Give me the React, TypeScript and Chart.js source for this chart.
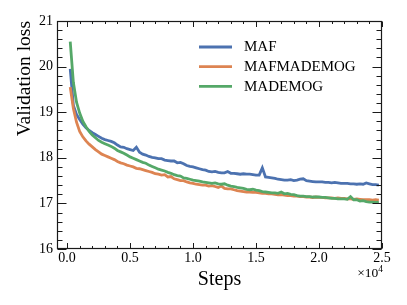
import React, { useEffect, useRef } from 'react';
import { Chart, registerables } from 'chart.js';

Chart.register(...registerables);

const steps = [
  250, 500, 750, 1000, 1250, 1500, 1750, 2000, 2250, 2500,
  2750, 3000, 3250, 3500, 3750, 4000, 4250, 4500, 4750, 5000,
  5250, 5500, 5750, 6000, 6250, 6500, 6750, 7000, 7250, 7500,
  7750, 8000, 8250, 8500, 8750, 9000, 9250, 9500, 9750, 10000,
  10250, 10500, 10750, 11000, 11250, 11500, 11750, 12000, 12250, 12500,
  12750, 13000, 13250, 13500, 13750, 14000, 14250, 14500, 14750, 15000,
  15250, 15500, 15750, 16000, 16250, 16500, 16750, 17000, 17250, 17500,
  17750, 18000, 18250, 18500, 18750, 19000, 19250, 19500, 19750, 20000,
  20250, 20500, 20750, 21000, 21250, 21500, 21750, 22000, 22250, 22500,
  22750, 23000, 23250, 23500, 23750, 24000, 24250, 24500, 24750,
];

const mafLoss = [
  19.95, 19.15, 18.95, 18.84, 18.74, 18.66, 18.60, 18.55, 18.51, 18.47,
  18.43, 18.40, 18.38, 18.36, 18.33, 18.28, 18.24, 18.23, 18.20, 18.18,
  18.16, 18.23, 18.12, 18.08, 18.06, 18.03, 18.01, 18.00, 17.98, 17.98,
  17.95, 17.94, 17.93, 17.93, 17.89, 17.90, 17.87, 17.83, 17.81, 17.80,
  17.78, 17.76, 17.74, 17.73, 17.70, 17.69, 17.70, 17.68, 17.67, 17.67,
  17.70, 17.66, 17.66, 17.65, 17.64, 17.65, 17.64, 17.64, 17.63, 17.62,
  17.62, 17.78, 17.58, 17.57, 17.56, 17.55, 17.53, 17.52, 17.51, 17.51,
  17.52, 17.50, 17.51, 17.53, 17.54, 17.50, 17.49, 17.48, 17.47, 17.47,
  17.47, 17.46, 17.46, 17.45, 17.46, 17.45, 17.44, 17.44, 17.44, 17.43,
  17.43, 17.42, 17.43, 17.42, 17.45, 17.43, 17.41, 17.41, 17.40,
];

const mafMademogLoss = [
  19.55, 19.08, 18.78, 18.58, 18.46, 18.37, 18.30, 18.24, 18.18, 18.13,
  18.08, 18.05, 18.02, 17.99, 17.96, 17.92, 17.89, 17.87, 17.84, 17.82,
  17.80, 17.77, 17.76, 17.74, 17.72, 17.70, 17.68, 17.65, 17.64, 17.62,
  17.63, 17.58, 17.59, 17.54, 17.52, 17.50, 17.50, 17.47, 17.45, 17.44,
  17.42, 17.41, 17.40, 17.40, 17.38, 17.39, 17.37, 17.35, 17.38, 17.33,
  17.32, 17.32, 17.30, 17.28, 17.27, 17.26, 17.25, 17.25, 17.24, 17.24,
  17.23, 17.22, 17.22, 17.21, 17.21, 17.20, 17.19, 17.19, 17.18, 17.17,
  17.17, 17.16, 17.16, 17.15, 17.15, 17.14, 17.14, 17.13, 17.14, 17.13,
  17.13, 17.12, 17.12, 17.12, 17.11, 17.12, 17.11, 17.11, 17.10, 17.10,
  17.09, 17.10, 17.09, 17.08, 17.08, 17.08, 17.07, 17.08, 17.07,
];

const mademogLoss = [
  20.55, 19.65, 19.22, 18.98, 18.80, 18.68, 18.58, 18.50, 18.44, 18.38,
  18.34, 18.31, 18.28, 18.25, 18.21, 18.16, 18.13, 18.10, 18.06, 18.02,
  17.99, 17.96, 17.93, 17.90, 17.88, 17.84, 17.81, 17.78, 17.75, 17.73,
  17.71, 17.68, 17.66, 17.63, 17.61, 17.60, 17.56, 17.55, 17.53, 17.51,
  17.50, 17.49, 17.47, 17.46, 17.45, 17.44, 17.45, 17.43, 17.42, 17.43,
  17.40, 17.38, 17.37, 17.35, 17.34, 17.33, 17.31, 17.30, 17.31, 17.29,
  17.28, 17.26, 17.25, 17.24, 17.23, 17.23, 17.22, 17.25, 17.21, 17.22,
  17.20, 17.19, 17.17, 17.16, 17.16, 17.15, 17.15, 17.14, 17.14, 17.14,
  17.13, 17.13, 17.12, 17.11, 17.11, 17.10, 17.10, 17.10, 17.09, 17.15,
  17.08, 17.08, 17.05, 17.06, 17.04, 17.03, 17.03, 17.02, 17.03,
];

const seriesNames = ['MAF', 'MAFMADEMOG', 'MADEMOG'];
const seriesColors = ['#4c72b0', '#dd8452', '#55a868'];
const xTickValues = [0, 5000, 10000, 15000, 20000, 25000];
const yTickValues = [16, 17, 18, 19, 20, 21];
const xRange = [-800, 25000];
const yRange = [16, 21];

const FAMILY = '"Liberation Serif", "Times New Roman", serif';

const axesPlugin = {
  id: 'mplAxes',
  afterDatasetsDraw(chart: any) {
    const { ctx, chartArea: a, scales } = chart;
    const xs = scales.x;
    const ys = scales.y;
    ctx.save();
    ctx.strokeStyle = '#1a1a1a';
    ctx.lineWidth = 1;
    const line = (x1: number, y1: number, x2: number, y2: number) => {
      ctx.beginPath();
      ctx.moveTo(x1, y1);
      ctx.lineTo(x2, y2);
      ctx.stroke();
    };
    const L = Math.round(a.left) + 0.5;
    const R = Math.round(a.right) - 0.5;
    const T = Math.round(a.top) + 0.5;
    const B = Math.round(a.bottom) - 0.5;
    for (let k = 0; k <= 25; k++) {
      const v = yRange[0] + k * 0.2;
      const py = Math.round(ys.getPixelForValue(v)) + 0.5;
      const len = k % 5 === 0 ? 9 : 5;
      line(L, py, L + len, py);
      line(R, py, R - len, py);
    }
    for (let k = 0; k <= 25; k++) {
      const v = k * 1000;
      if (v < xRange[0] || v > xRange[1]) continue;
      const px = Math.round(xs.getPixelForValue(v)) + 0.5;
      const len = k % 5 === 0 ? 5.5 : 2.5;
      line(px, B, px, B - len);
      line(px, T, px, T + len);
    }
    ctx.lineWidth = 1.2;
    ctx.strokeRect(L, T, R - L, B - T);
    ctx.restore();
  },
  afterDraw(chart: any) {
    const { ctx, chartArea: a } = chart;
    ctx.save();
    const ds = chart.data.datasets;
    ctx.font = `15px ${FAMILY}`;
    ctx.textBaseline = 'middle';
    ctx.textAlign = 'left';
    for (let i = 0; i < ds.length; i++) {
      const yy = a.top + 26 + i * 19.7;
      ctx.strokeStyle = ds[i].borderColor;
      ctx.lineWidth = 2.8;
      ctx.beginPath();
      ctx.moveTo(a.left + 142, yy);
      ctx.lineTo(a.left + 175, yy);
      ctx.stroke();
      ctx.fillStyle = '#000';
      ctx.fillText(ds[i].label, a.left + 187, yy + 0.5);
    }
    ctx.font = `13.5px ${FAMILY}`;
    const base = '×10';
    const w1 = ctx.measureText(base).width;
    ctx.font = `9.5px ${FAMILY}`;
    const w2 = ctx.measureText('4').width;
    const x0 = a.right + 1 - w1 - w2;
    ctx.textBaseline = 'alphabetic';
    ctx.fillStyle = '#000';
    ctx.font = `13.5px ${FAMILY}`;
    ctx.fillText(base, x0, a.bottom + 28);
    ctx.font = `9.5px ${FAMILY}`;
    ctx.fillText('4', x0 + w1, a.bottom + 22.5);
    ctx.restore();
  },
};

export default function App() {
  const ref = useRef<HTMLCanvasElement>(null);
  useEffect(() => {
    const canvas = ref.current;
    if (!canvas) return;
    const series = [mafLoss, mafMademogLoss, mademogLoss];
    const chart = new Chart(canvas, {
      type: 'line',
      data: {
        datasets: series.map((vals, i) => ({
          label: seriesNames[i],
          data: steps.map((s, j) => ({ x: s, y: vals[j] })),
          borderColor: seriesColors[i],
          backgroundColor: seriesColors[i],
          borderWidth: 2.8,
          pointRadius: 0,
          tension: 0,
          fill: false,
          order: 2 - i,
        })),
      },
      options: {
        responsive: false,
        animation: false,
        devicePixelRatio: 1,
        layout: { padding: { top: 21, right: 25, left: 0, bottom: 0 } },
        plugins: { legend: { display: false }, tooltip: { enabled: false } },
        scales: {
          x: {
            type: 'linear',
            min: xRange[0],
            max: xRange[1],
            grid: { display: false, drawTicks: false },
            border: { display: false },
            afterBuildTicks: (s: any) => {
              s.ticks = xTickValues.map((value) => ({ value }));
            },
            afterFit: (s: any) => {
              s.height = 56;
            },
            ticks: {
              font: { family: FAMILY, size: 14 },
              color: '#000',
              padding: 0.5,
              maxRotation: 0,
              autoSkip: false,
              callback: (v: any) => (Number(v) / 1e4).toFixed(1),
            },
            title: {
              display: true,
              text: 'Steps',
              color: '#000',
              font: { family: FAMILY, size: 20 },
              padding: { top: 0, bottom: 13.5 },
            },
          },
          y: {
            type: 'linear',
            min: yRange[0],
            max: yRange[1],
            grid: { display: false, drawTicks: false },
            border: { display: false },
            afterBuildTicks: (s: any) => {
              s.ticks = yTickValues.map((value) => ({ value }));
            },
            afterFit: (s: any) => {
              s.width = 57;
            },
            ticks: {
              font: { family: FAMILY, size: 14 },
              color: '#000',
              padding: 4,
              autoSkip: false,
              callback: (v: any) => String(v),
            },
            title: {
              display: true,
              text: 'Validation loss',
              align: 'end',
              color: '#000',
              font: { family: FAMILY, size: 19.5 },
              padding: { top: 13, bottom: 0 },
            },
          },
        },
      } as any,
      plugins: [axesPlugin],
    });
    return () => chart.destroy();
  }, []);
  return (
    <div style={{ position: 'fixed', left: 0, top: 0, width: 407, height: 305, background: '#fff' }}>
      <canvas ref={ref} width={407} height={305} style={{ display: 'block' }} />
    </div>
  );
}
